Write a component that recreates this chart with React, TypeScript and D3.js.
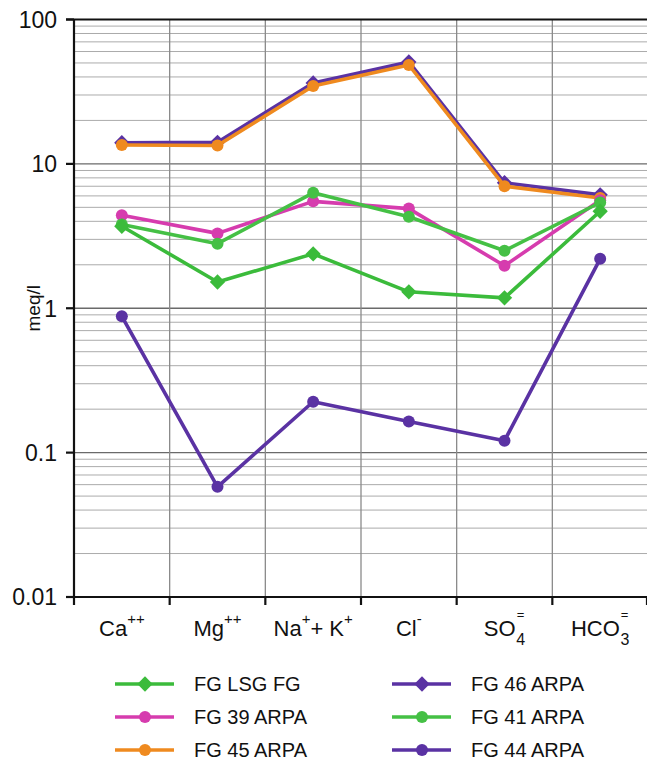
import React, { useEffect, useRef } from 'react';
import * as d3 from 'd3';

const categories = ['Ca', 'Mg', 'NaK', 'Cl', 'SO4', 'HCO3'];

// label pieces: [text, kind] kind = n (normal), sup, sub
const categoryLabels: [string, string][][] = [
  [['Ca', 'n'], ['++', 'sup']],
  [['Mg', 'n'], ['++', 'sup']],
  [['Na', 'n'], ['+', 'sup'], ['+ K', 'n'], ['+', 'sup']],
  [['Cl', 'n'], ['-', 'sup']],
  [['SO', 'n'], ['=', 'sup'], ['4', 'sub']],
  [['HCO', 'n'], ['=', 'sup'], ['3', 'sub']],
];

const yTicks = [0.01, 0.1, 1, 10, 100];
const yTickLabels = ['0.01', '0.1', '1', '10', '100'];

const fg46 = [14.0, 14.1, 36.3, 50.8, 7.4, 6.1];
const fg45 = [13.5, 13.4, 34.6, 48.4, 7.0, 5.8];
const fg39 = [4.4, 3.3, 5.5, 4.9, 1.97, 5.6];
const fg41 = [3.8, 2.8, 6.3, 4.3, 2.5, 5.4];
const fgLsg = [3.7, 1.52, 2.38, 1.3, 1.18, 4.7];
const fg44 = [0.88, 0.058, 0.225, 0.164, 0.121, 2.2];

const series = [
  { name: 'FG 46 ARPA', values: fg46, color: '#5a32a3', marker: 'diamond' },
  { name: 'FG 45 ARPA', values: fg45, color: '#ef8a1f', marker: 'circle' },
  { name: 'FG 39 ARPA', values: fg39, color: '#d63cae', marker: 'circle' },
  { name: 'FG 41 ARPA', values: fg41, color: '#45c045', marker: 'circle' },
  { name: 'FG LSG FG', values: fgLsg, color: '#3bbb3b', marker: 'diamond' },
  { name: 'FG 44 ARPA', values: fg44, color: '#5a32a3', marker: 'circle' },
];

const legendOrder = ['FG LSG FG', 'FG 39 ARPA', 'FG 45 ARPA', 'FG 46 ARPA', 'FG 41 ARPA', 'FG 44 ARPA'];

const FONT = 'Liberation Sans, Arial, Helvetica, sans-serif';

const drawMarker = (g: any, kind: string, cx: number, cy: number, color: string) => {
  if (kind === 'diamond') {
    g.append('path')
      .attr('d', d3.symbol().type(d3.symbolDiamond2).size(150)())
      .attr('transform', `translate(${cx},${cy})`)
      .attr('fill', color);
  } else {
    g.append('circle')
      .attr('cx', cx)
      .attr('cy', cy)
      .attr('r', 6)
      .attr('fill', color);
  }
};

const Chart = () => {
  const svgRef = useRef(null);

  useEffect(() => {
    const svg = d3.select(svgRef.current);
    svg.selectAll('*').remove();

    const left = 74;
    const right = 648;
    const top = 19.5;
    const bottom = 597;

    const xScale = d3.scaleBand().domain(categories).range([left, right]);
    const yScale = d3.scaleLog().domain([0.01, 100]).range([bottom, top]);
    const cx = (c: string) => (xScale(c) as number) + xScale.bandwidth() / 2;

    svg.append('rect').attr('width', 647).attr('height', 765).attr('fill', '#fff');

    // minor horizontal grid
    const minor: number[] = [];
    [0.01, 0.1, 1, 10].forEach((d) => {
      for (let k = 2; k <= 9; k++) minor.push(d * k);
    });
    svg.append('g')
      .selectAll('line')
      .data(minor)
      .join('line')
      .attr('x1', left)
      .attr('x2', right)
      .attr('y1', (d) => yScale(d))
      .attr('y2', (d) => yScale(d))
      .attr('stroke', '#ababab')
      .attr('stroke-width', 1);

    // major horizontal grid
    svg.append('g')
      .selectAll('line')
      .data([0.1, 1, 10])
      .join('line')
      .attr('x1', left)
      .attr('x2', right)
      .attr('y1', (d) => yScale(d))
      .attr('y2', (d) => yScale(d))
      .attr('stroke', '#6a6a6a')
      .attr('stroke-width', 1.3);

    // vertical grid at band edges
    const edges = categories.slice(1).map((c) => xScale(c) as number);
    svg.append('g')
      .selectAll('line')
      .data(edges)
      .join('line')
      .attr('x1', (d) => d)
      .attr('x2', (d) => d)
      .attr('y1', top)
      .attr('y2', bottom)
      .attr('stroke', '#8a8a8a')
      .attr('stroke-width', 1.3);

    // top border
    svg.append('line')
      .attr('x1', left - 8).attr('x2', 647)
      .attr('y1', top).attr('y2', top)
      .attr('stroke', '#111').attr('stroke-width', 2.2);

    // y axis
    const yAxis = svg.append('g').attr('transform', `translate(${left},0)`);
    yAxis.append('line')
      .attr('y1', top).attr('y2', bottom)
      .attr('stroke', '#111').attr('stroke-width', 2.2);
    yAxis.selectAll('line.tick')
      .data(yTicks)
      .join('line')
      .attr('class', 'tick')
      .attr('x1', -8).attr('x2', 0)
      .attr('y1', (d) => yScale(d)).attr('y2', (d) => yScale(d))
      .attr('stroke', '#111').attr('stroke-width', 2.2);
    yAxis.selectAll('text')
      .data(yTicks)
      .join('text')
      .attr('x', -17)
      .attr('y', (d) => yScale(d))
      .attr('dy', '0.36em')
      .attr('text-anchor', 'end')
      .attr('font-family', FONT)
      .attr('font-size', 23)
      .attr('fill', '#111')
      .text((d, i) => yTickLabels[i]);

    svg.append('text')
      .attr('transform', `translate(40,${(top + bottom) / 2}) rotate(-90)`)
      .attr('text-anchor', 'middle')
      .attr('font-family', FONT)
      .attr('font-size', 19)
      .attr('fill', '#111')
      .text('meq/l');

    // x axis
    const xAxis = svg.append('g').attr('transform', `translate(0,${bottom})`);
    xAxis.append('line')
      .attr('x1', left).attr('x2', 647)
      .attr('stroke', '#111').attr('stroke-width', 2.2);
    xAxis.selectAll('line.tick')
      .data([left, ...edges, right - 1])
      .join('line')
      .attr('class', 'tick')
      .attr('x1', (d) => d).attr('x2', (d) => d)
      .attr('y1', 0).attr('y2', 8)
      .attr('stroke', '#111').attr('stroke-width', 2.2);

    categories.forEach((c, i) => {
      const t = xAxis.append('text')
        .attr('x', cx(c))
        .attr('y', 39)
        .attr('text-anchor', 'middle')
        .attr('font-family', FONT)
        .attr('font-size', 22)
        .attr('fill', '#111');
      let shift = 0;
      categoryLabels[i].forEach(([txt, kind]) => {
        const sp = t.append('tspan').text(txt);
        if (kind === 'sup') {
          const fs = txt === '=' ? 13 : 15;
          const dy = txt === '=' ? -17 : -12;
          sp.attr('font-size', fs).attr('dy', dy - shift).attr('dx', txt === '=' ? 1 : 0);
          shift = dy;
        } else if (kind === 'sub') {
          sp.attr('font-size', 16).attr('dy', 9 - shift).attr('dx', -8);
          shift = 9;
        } else {
          sp.attr('dy', -shift);
          shift = 0;
        }
      });
    });

    // series
    const line = d3.line<number>()
      .x((d, i) => cx(categories[i]))
      .y((d) => yScale(d));

    series.forEach((s) => {
      const g = svg.append('g');
      g.append('path')
        .datum(s.values)
        .attr('fill', 'none')
        .attr('stroke', s.color)
        .attr('stroke-width', 3.6)
        .attr('stroke-linejoin', 'round')
        .attr('d', line);
      s.values.forEach((v, i) => drawMarker(g, s.marker, cx(categories[i]), yScale(v), s.color));
    });

    // legend
    const legend = svg.append('g');
    legendOrder.forEach((name, i) => {
      const s = series.find((d) => d.name === name)!;
      const col = Math.floor(i / 3);
      const row = i % 3;
      const lx = col === 0 ? 115 : 392;
      const ly = 684 + row * 33;
      legend.append('line')
        .attr('x1', lx).attr('x2', lx + 59)
        .attr('y1', ly).attr('y2', ly)
        .attr('stroke', s.color).attr('stroke-width', 3.4);
      drawMarker(legend, s.marker, lx + 30, ly, s.color);
      legend.append('text')
        .attr('x', lx + 79)
        .attr('y', ly)
        .attr('dy', '0.36em')
        .attr('font-family', FONT)
        .attr('font-size', 20)
        .attr('fill', '#111')
        .text(name);
    });
  }, []);

  return <svg ref={svgRef} width={647} height={765} style={{ position: 'absolute', left: 0, top: 0 }}></svg>;
};

export default function App() {
  return <Chart />;
}
